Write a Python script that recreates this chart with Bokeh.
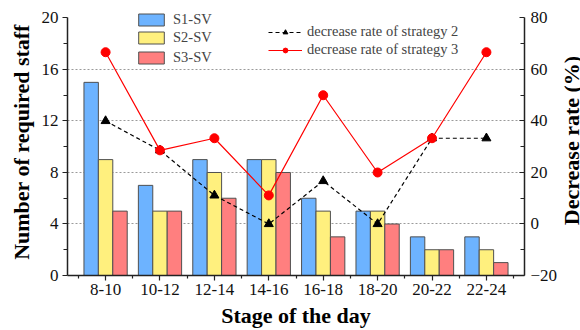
import math

from bokeh.embed import file_html
from bokeh.layouts import row
from bokeh.models import (ColumnDataSource, FixedTicker, Label, Legend,
                          LegendItem, LinearAxis, Range1d)
from bokeh.plotting import figure
from bokeh.resources import INLINE
from bokeh.transform import dodge

# Staff needed per two-hour stage under three scheduling variants
stages = ["8-10", "10-12", "12-14", "14-16", "16-18", "18-20", "20-22", "22-24"]
s1_sv = [15, 7, 9, 9, 6, 5, 3, 3]
s2_sv = [9, 5, 8, 9, 5, 5, 2, 2]
s3_sv = [5, 5, 6, 8, 3, 4, 2, 1]
# Decrease rate (%) of strategies 2 and 3 relative to S1
rate_s2 = [40.0, 28.6, 11.1, 0.0, 16.7, 0.0, 33.3, 33.3]
rate_s3 = [66.7, 28.6, 33.3, 11.1, 50.0, 20.0, 33.3, 66.7]

left_ticks = [0, 4, 8, 12, 16, 20]
right_ticks = [-20, 0, 20, 40, 60, 80]

pos = list(range(1, len(stages) + 1))
src = ColumnDataSource(dict(x=pos, s1=s1_sv, s2=s2_sv, s3=s3_sv,
                            r2=rate_s2, r3=rate_s3))

SERIF = "Liberation Serif"
INK = "#222222"
BAR_W = 0.265

# a little headroom above the top tick so the legends sit inside the frame;
# the axis lines themselves stop at the top tick via `bounds`
HEAD = 0.735

p = figure(width=560, height=330, output_backend="svg", toolbar_location=None,
           x_range=Range1d(0.3, 8.7), y_range=Range1d(0, 20 + HEAD),
           min_border_left=67, min_border_right=31,
           min_border_top=8, min_border_bottom=54)
p.outline_line_color = None
p.background_fill_color = "white"
p.border_fill_color = "white"

p.extra_y_ranges = {"rate": Range1d(-20, 80 + 5 * HEAD)}
right = LinearAxis(y_range_name="rate")
p.add_layout(right, "right")

# grid: dotted horizontal lines only
p.xgrid.visible = False
p.ygrid.ticker = FixedTicker(ticks=[4, 8, 12, 16])
p.ygrid.grid_line_color = "#9a9a9a"
p.ygrid.grid_line_dash = "2 2"
p.ygrid.grid_line_width = 1

bar_kw = dict(width=BAR_W, line_color="#505050", line_width=1, source=src)
b1 = p.vbar(x=dodge("x", -BAR_W, range=p.x_range), top="s1",
            fill_color="#6db3ff", **bar_kw)
b2 = p.vbar(x="x", top="s2", fill_color="#fff07e", **bar_kw)
b3 = p.vbar(x=dodge("x", BAR_W, range=p.x_range), top="s3",
            fill_color="#ff7f7f", **bar_kw)

l2 = p.line("x", "r2", source=src, y_range_name="rate", line_color="black",
            line_width=1.2, line_dash="4 3")
m2 = p.scatter("x", "r2", source=src, y_range_name="rate", marker="triangle",
               size=9, fill_color="black", line_color="black")
l3 = p.line("x", "r3", source=src, y_range_name="rate", line_color="#ff0000",
            line_width=1.2)
m3 = p.scatter("x", "r3", source=src, y_range_name="rate", marker="circle",
               size=9, fill_color="#ff0000", line_color="#ff0000")

# axes
xa = p.xaxis[0]
ya = p.yaxis[0]
xa.ticker = FixedTicker(ticks=pos, minor_ticks=[i + 0.5 for i in range(len(stages) + 1)])
xa.major_label_overrides = {i: s for i, s in zip(pos, stages)}
ya.ticker = FixedTicker(ticks=left_ticks, minor_ticks=[2, 6, 10, 14, 18])
ya.bounds = (0, 20)
right.ticker = FixedTicker(ticks=right_ticks, minor_ticks=[-10, 10, 30, 50, 70])
right.bounds = (-20, 80)

xa.axis_label = "Stage of the day"
ya.axis_label = "Number of required staff"

for ax in (xa, ya, right):
    ax.axis_line_color = INK
    ax.axis_line_width = 1.5
    ax.major_tick_line_color = INK
    ax.minor_tick_line_color = INK
    ax.major_tick_line_width = 1.2
    ax.minor_tick_line_width = 1.2
    ax.major_label_text_font = SERIF
    ax.major_label_text_font_size = "17px"
    ax.major_label_text_color = "#111111"
    ax.axis_label_text_font = SERIF
    ax.axis_label_text_font_style = "bold"
    ax.axis_label_text_font_size = "22px"
    ax.axis_label_text_color = "#000000"

xa.major_tick_out, xa.major_tick_in = 5, 0
xa.minor_tick_out, xa.minor_tick_in = 3, 0
xa.major_label_standoff = 3
xa.axis_label_standoff = 5

ya.major_tick_out, ya.major_tick_in = 5, 0
ya.minor_tick_out, ya.minor_tick_in = 4, 0
ya.major_label_standoff = 4
ya.axis_label_standoff = 5

right.major_tick_out, right.major_tick_in = 0, 5
right.minor_tick_out, right.minor_tick_in = 0, 4
right.major_label_standoff = 6

# legends: one small legend per entry so each row can be placed exactly
legend_style = dict(orientation="vertical", padding=0, margin=0, spacing=0,
                    label_text_font=SERIF, label_text_font_size="14.5px",
                    border_line_color=None, background_fill_alpha=0)

bar_rows = [("S1-SV", b1, 247), ("S2-SV", b2, 229), ("S3-SV", b3, 209)]
for name, rend, ybot in bar_rows:
    p.add_layout(Legend(items=[LegendItem(label=name, renderers=[rend])],
                        location=(68, ybot), glyph_width=32, glyph_height=15,
                        label_height=15, label_standoff=6, **legend_style))

line_rows = [("decrease rate of strategy 2", [l2, m2], 235),
             ("decrease rate of strategy 3", [l3, m3], 217)]
for name, rends, ybot in line_rows:
    p.add_layout(Legend(items=[LegendItem(label=name, renderers=rends)],
                        location=(201, ybot), glyph_width=34, glyph_height=12,
                        label_height=12, label_standoff=5, **legend_style))

# narrow strip on the right that carries the right-hand axis title
strip = figure(width=20, height=330, output_backend="svg", toolbar_location=None,
               x_range=Range1d(0, 1), y_range=Range1d(0, 1),
               x_axis_type=None, y_axis_type=None,
               min_border_left=0, min_border_right=0,
               min_border_top=0, min_border_bottom=0)
strip.outline_line_color = None
strip.grid.visible = False
strip.background_fill_color = "white"
strip.border_fill_color = "white"
strip.add_layout(Label(x=10.5, y=135, x_units="screen", y_units="screen",
                       text="Decrease rate (%)", angle=math.pi / 2,
                       text_align="center", text_baseline="middle",
                       text_font=SERIF, text_font_style="bold",
                       text_font_size="22px", text_color="#000000"))

layout = row(p, strip, spacing=0)
open("out.html", "w").write(file_html(layout, INLINE))
